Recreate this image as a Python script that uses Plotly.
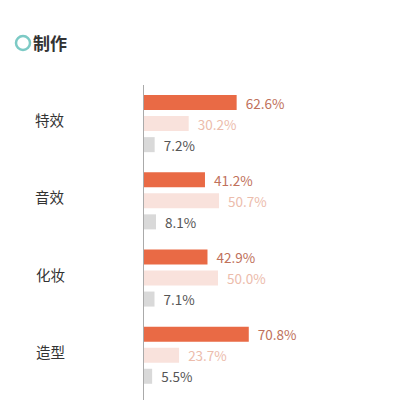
import plotly.graph_objects as go

categories = ["特效", "音效", "化妆", "造型"]
high = [62.6, 41.2, 42.9, 70.8]
mid = [30.2, 50.7, 50.0, 23.7]
low = [7.2, 8.1, 7.1, 5.5]

bar_colors = ["#e96a45", "#f9e2dc", "#d9d9d9"]
text_colors = ["#c0715b", "#ecbcac", "#555555"]

font_cn = "Noto Sans CJK SC"

fig = go.Figure()
for vals, bc, tc in zip([high, mid, low], bar_colors, text_colors):
    fig.add_trace(go.Bar(
        x=vals, y=categories, orientation="h",
        marker=dict(color=bc, line=dict(width=0)),
        texttemplate="\u00a0\u00a0%{x:.1f}%", textposition="outside",
        constraintext="none",
        outsidetextfont=dict(color=tc, size=13.5, family=font_cn),
        cliponaxis=False, hoverinfo="skip",
    ))

# category labels, centred left of the axis
for c in categories:
    fig.add_annotation(x=0, xref="paper", y=c, yref="y", xshift=-94, yshift=4,
                       text=c, showarrow=False, xanchor="center",
                       font=dict(size=14.5, color="#333333", family=font_cn))

# title ring
fig.add_shape(type="circle", xref="paper", yref="paper",
              xsizemode="pixel", ysizemode="pixel", xanchor=0, yanchor=1,
              x0=-128, x1=-114, y0=35, y1=49,
              line=dict(color="#7ccac5", width=2.5))

# page shows the figure 8px in from the top-left corner
fig.update_layout(
    width=415, height=400,
    margin=dict(l=136, r=131, t=77, b=8),
    paper_bgcolor="white", plot_bgcolor="white",
    barmode="group", bargap=0.182, bargroupgap=0.286,
    showlegend=False,
    title=dict(text="<b>制作</b>", x=25 / 415, xanchor="left", xref="container",
               y=1 - 36 / 400, yanchor="middle", yref="container",
               font=dict(size=17, color="#333333", family=font_cn)),
    xaxis=dict(range=[0, 100], visible=False),
    yaxis=dict(range=[3.58, -0.5], showticklabels=False, ticks="",
               showgrid=False, zeroline=False,
               showline=True, linecolor="#aaaaaa", linewidth=1),
)

fig.write_html("out.html")
